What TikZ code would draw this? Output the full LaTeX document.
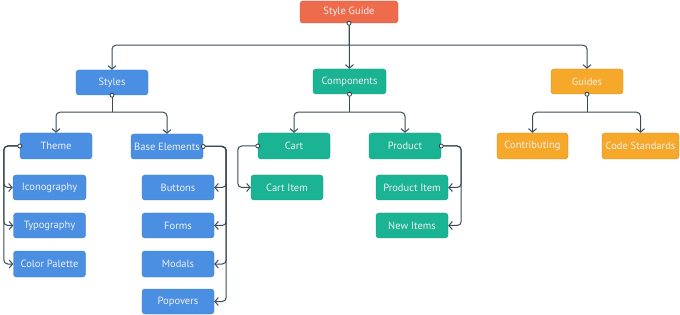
\documentclass[tikz,border=0pt]{standalone}
\usepackage{fontspec}
\setmainfont{PT Sans}
\usetikzlibrary{arrows.meta,calc}
\definecolor{cblue}{HTML}{4A8FE2}
\definecolor{cteal}{HTML}{1AB394}
\definecolor{corange}{HTML}{F5A829}
\definecolor{cred}{HTML}{EE6B4B}
\definecolor{cline}{HTML}{3B4A56}
\tikzset{
  box/.style={rectangle,rounded corners=3pt,minimum width=72pt,minimum height=25pt,inner sep=0pt,
    text=white!94!black,font=\fontsize{10.5}{12}\selectfont},
  bluebox/.style={box,fill=cblue,draw=cblue!85!black,line width=0.4pt},
  tealbox/.style={box,fill=cteal,draw=cteal!85!black,line width=0.4pt},
  orangebox/.style={box,fill=corange,draw=corange!85!black,line width=0.4pt},
  redbox/.style={box,fill=cred,draw=cred!85!black,line width=0.4pt},
  conn/.style={draw=cline,line width=1pt,rounded corners=4pt,-{Straight Barb[length=3.5pt,width=8pt,line width=1pt]}},
  trunk/.style={draw=cline,line width=1pt},
  dot/.style={draw=cline,fill=white,line width=0.9pt}
}
\begin{document}
\begin{tikzpicture}[x=1pt,y=-1pt]
\useasboundingbox[fill=white] (0,0) rectangle (680,315);
% nodes
\node[redbox,minimum width=98pt,minimum height=22pt] (sg) at (349,12) {Style Guide};
\node[bluebox] (styles) at (112,82.5) {Styles};
\node[tealbox,minimum width=73pt] (comp) at (349.5,81.5) {Components};
\node[orangebox] (guides) at (587,81.5) {Guides};
\node[bluebox,minimum height=26pt] (theme) at (56,146) {Theme};
\node[bluebox] (base) at (167,146.5) {Base Elements};
\node[tealbox,minimum height=26pt] (cart) at (294,146) {Cart};
\node[tealbox,minimum height=26pt] (product) at (405,146) {Product};
\node[orangebox,minimum width=71pt,minimum height=26pt] (contrib) at (532.5,146) {Contributing};
\node[orangebox,minimum width=77pt,minimum height=26pt] (codestd) at (640.5,146) {Code Standards};
\node[bluebox,minimum width=73pt] (icon) at (49.5,187.5) {Iconography};
\node[bluebox] (typo) at (49.5,225.5) {Typography};
\node[bluebox,minimum height=26pt] (palette) at (49.5,264) {Color Palette};
\node[bluebox] (buttons) at (178,187.5) {Buttons};
\node[bluebox] (forms) at (178,225.5) {Forms};
\node[bluebox,minimum height=26pt] (modals) at (178,264) {Modals};
\node[bluebox] (popovers) at (178,301.5) {Popovers};
\node[tealbox] (cartitem) at (287,187.5) {Cart Item};
\node[tealbox] (pitem) at (412,187.5) {Product Item};
\node[tealbox] (newitems) at (412,225.5) {New Items};
% top level
\draw[trunk] (sg.south) -- ($(sg.south)+(0,22)$);
\draw[conn] ($(sg.south)+(0,22)$) -| (styles.north);
\draw[conn] (sg.south) -- (comp.north);
\draw[conn] ($(sg.south)+(0,22)$) -| (guides.north);
% styles
\draw[trunk] (styles.south) -- ($(styles.south)+(0,17)$);
\draw[conn] ($(styles.south)+(0,17)$) -| (theme.north);
\draw[conn] ($(styles.south)+(0,17)$) -| (base.north);
% components
\draw[trunk] (comp.south) -- ($(comp.south)+(0,18)$);
\draw[conn] ($(comp.south)+(0,18)$) -| (cart.north);
\draw[conn] ($(comp.south)+(0,18)$) -| (product.north);
% guides
\draw[trunk] (guides.south) -- ($(guides.south)+(0,18)$);
\draw[conn] ($(guides.south)+(0,18)$) -| (contrib.north);
\draw[conn] ($(guides.south)+(0,18)$) -| (codestd.north);
% theme side
\draw[conn] (theme.west) -- ++(-16,0) |- (icon.west);
\draw[conn] (theme.west) -- ++(-16,0) |- (typo.west);
\draw[conn] (theme.west) -- ++(-16,0) |- (palette.west);
% base side
\draw[conn] (base.east) -- ++(23,0) |- (buttons.east);
\draw[conn] (base.east) -- ++(23,0) |- (forms.east);
\draw[conn] (base.east) -- ++(23,0) |- (modals.east);
\draw[conn] (base.east) -- ++(23,0) |- (popovers.east);
% cart side
\draw[conn] (cart.west) -- ++(-20,0) |- (cartitem.west);
% product side
\draw[conn] (product.east) -- ++(20,0) |- (pitem.east);
\draw[conn] (product.east) -- ++(20,0) |- (newitems.east);
% dots
\foreach \p in {sg.south,styles.south,comp.south,guides.south,theme.west,base.east,cart.west,product.east}
  \draw[dot] (\p) circle (2pt);
\end{tikzpicture}
\end{document}
